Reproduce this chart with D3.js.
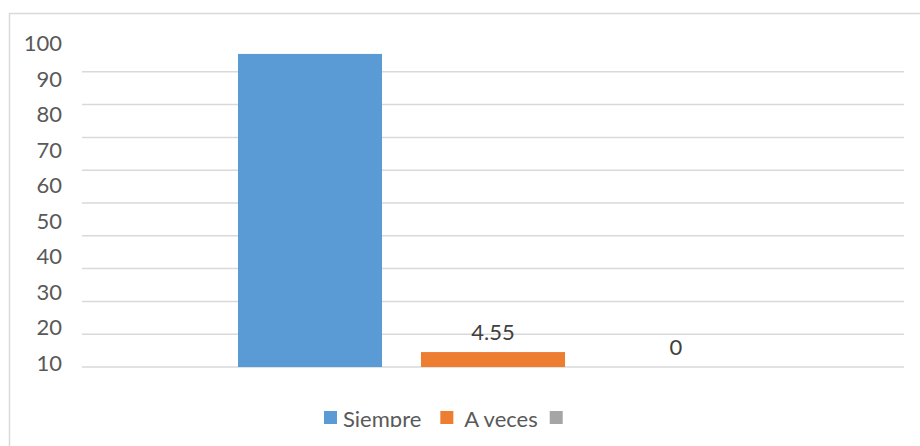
<!DOCTYPE html>
<html>
<head>
<meta charset="utf-8">
<script src="https://cdn.jsdelivr.net/npm/d3@7"></script>
<style>
  body { margin: 0; background: #fff; }
  svg { display: block; font-family: Lato, "Open Sans", sans-serif; }
</style>
</head>
<body>
<svg id="chart" width="920" height="446"></svg>
<script>
// data
const series = ["Siempre", "A veces", ""];
const values = [95.45, 4.55, 0];
const showLabel = [false, true, true];
const colors = ["#5b9bd5", "#ed7d31", "#a5a5a5"];
const gridValues = [0, 10, 20, 30, 40, 50, 60, 70, 80, 90];
const tickLabels = [10, 20, 30, 40, 50, 60, 70, 80, 90, 100];

let width = 920, height = 446;
let plotLeft = 82, plotRight = 904;
let fontSize = "22px";

const svg = d3.select("#chart");

// chart frame
svg.append("rect")
  .attr("x", 9.5).attr("y", 13.5)
  .attr("width", width).attr("height", height)
  .attr("fill", "none")
  .attr("stroke", "#d9d9d9")
  .attr("stroke-width", 1.5);

// value scale (bars, gridlines)
const y = d3.scaleLinear().domain([0, 100]).range([367, 39]);
// the tick labels in the source sit on their own spacing
const yLabels = d3.scaleLinear().domain([10, 100]).range([363, 43.5]);

// series positions inside the single category
const mid = (plotLeft + plotRight) / 2;
const x = d3.scaleBand()
  .domain(series)
  .range([mid - 274.5, mid + 274.5])
  .paddingInner(0.213)
  .paddingOuter(0.1065);

const rows = series.map((s, i) => ({ name: s, value: values[i], label: showLabel[i], color: colors[i] }));

// gridlines
svg.append("g")
  .selectAll("line")
  .data(gridValues)
  .enter()
  .append("line")
  .attr("x1", plotLeft).attr("x2", plotRight)
  .attr("y1", d => y(d)).attr("y2", d => y(d))
  .attr("stroke", "#d9d9d9")
  .attr("stroke-width", 1.5);

// y axis labels
const yAxis = svg.append("g")
  .attr("transform", "translate(62,0)")
  .call(d3.axisLeft(yLabels).tickValues(tickLabels).tickSize(0).tickPadding(0));
yAxis.select(".domain").remove();
yAxis.selectAll("text")
  .attr("fill", "#595959")
  .style("font-size", fontSize)
  .style("font-family", "Lato, 'Open Sans', sans-serif");

// bars
svg.append("g")
  .selectAll("rect")
  .data(rows)
  .enter()
  .append("rect")
  .attr("x", d => x(d.name))
  .attr("width", x.bandwidth())
  .attr("y", d => y(d.value))
  .attr("height", d => y(0) - y(d.value))
  .attr("fill", d => d.color);

// data labels
svg.append("g")
  .selectAll("text")
  .data(rows.filter(d => d.label))
  .enter()
  .append("text")
  .attr("x", d => x(d.name) + x.bandwidth() / 2)
  .attr("y", d => y(d.value) - 20)
  .attr("dy", "0.35em")
  .attr("text-anchor", "middle")
  .attr("fill", "#404040")
  .style("font-size", fontSize)
  .text(d => d.value);

// legend (clipped at the baseline like the source image)
svg.append("defs").append("clipPath").attr("id", "legendClip")
  .append("rect").attr("x", 0).attr("y", 0).attr("width", width).attr("height", 427);

const legend = svg.append("g").attr("clip-path", "url(#legendClip)");
let lx = 324;
rows.forEach((d, i) => {
  legend.append("rect")
    .attr("x", lx).attr("y", 411)
    .attr("width", 13).attr("height", 13)
    .attr("fill", d.color);
  lx += 13;
  if (d.name) {
    let gap = i > 0 ? 11 : 6;
    const t = legend.append("text")
      .attr("x", lx + gap)
      .attr("y", 427)
      .attr("fill", "#595959")
      .style("font-size", fontSize)
      .text(d.name);
    lx += gap + t.node().getComputedTextLength() + (i > 0 ? 12 : 19);
  }
});
</script>
</body>
</html>
